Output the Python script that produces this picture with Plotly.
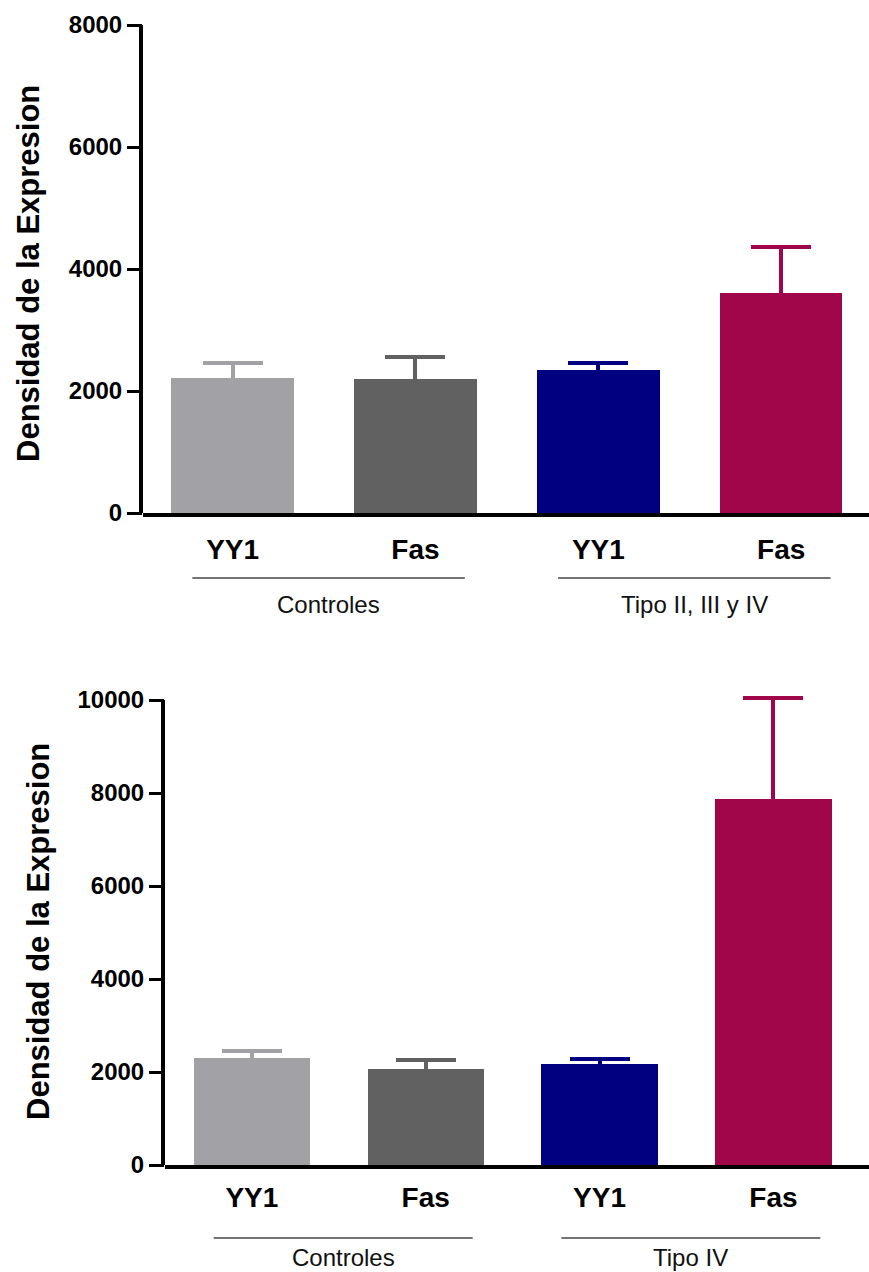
import plotly.graph_objects as go

# ---- data ----
bar_labels = ["YY1", "Fas", "YY1", "Fas"]
bar_colors = ["#A2A2A6", "#616161", "#000080", "#A1064B"]

top_groups = ["Controles", "Tipo II, III y IV"]
top_means = [2210, 2195, 2345, 3605]
top_sem = [250, 360, 115, 755]

bottom_groups = ["Controles", "Tipo IV"]
bottom_means = [2300, 2065, 2175, 7870]
bottom_sem = [150, 195, 105, 2170]

y_title = "Densidad de la Expresion"

W, H = 869, 1272
FONT = "Liberation Sans, Arial, Helvetica, sans-serif"

fig = go.Figure()

# pixel frame of each panel: left edge of the plot, pixel rows of 0 and of the top tick
panels = [
    dict(xa="x", ya="y", means=top_means, sem=top_sem, groups=top_groups,
         left=143, y0px=513, ytoppx=25, ymax=8000,
         xrange=[-0.49, 3.48], standoff=8,
         line_px=578, text_px=604, title_px=(28, 274)),
    dict(xa="x2", ya="y2", means=bottom_means, sem=bottom_sem, groups=bottom_groups,
         left=165, y0px=1165, ytoppx=700, ymax=10000,
         xrange=[-0.5, 3.55], standoff=4,
         line_px=1238, text_px=1257, title_px=(39, 932)),
]

positions = list(range(len(bar_labels)))
HEADROOM = 0.03  # extra room above the last tick so tall whisker caps stay visible

for p in panels:
    ppu = (p["y0px"] - p["ytoppx"]) / p["ymax"]          # pixels per data unit
    p["yrange"] = [0, p["ymax"] * (1 + HEADROOM)]
    top_px = p["y0px"] - p["yrange"][1] * ppu
    p["ydom"] = [(H - p["y0px"]) / H, (H - top_px) / H]
    p["xdom"] = [p["left"] / W, 1.0]

    inset = 0.02 * p["ymax"]  # whisker foot hidden inside the bar
    for i, (m, s, c) in enumerate(zip(p["means"], p["sem"], bar_colors)):
        fig.add_trace(go.Bar(
            x=[positions[i]], y=[m], width=0.67,
            marker=dict(color=c, line=dict(width=0)),
            error_y=dict(type="data", symmetric=False, array=[s], arrayminus=[inset],
                         color=c, thickness=4, width=30),
            xaxis=p["xa"], yaxis=p["ya"], showlegend=False,
        ))

    # vertical axis line, only from 0 up to the last tick
    xline = (p["left"] - 2) / W
    fig.add_shape(type="line", xref="paper", yref=p["ya"],
                  x0=xline, x1=xline, y0=0, y1=p["ymax"],
                  line=dict(color="#000000", width=4))

    # group underline + group name (two bars per group)
    for g, name in enumerate(p["groups"]):
        x0 = positions[2 * g] - 0.22
        x1 = positions[2 * g + 1] + 0.27
        ly = (H - p["line_px"]) / H
        fig.add_shape(type="line", xref=p["xa"], yref="paper",
                      x0=x0, x1=x1, y0=ly, y1=ly,
                      line=dict(color="#444444", width=1.5))
        fig.add_annotation(x=(x0 + x1) / 2, y=(H - p["text_px"]) / H,
                           xref=p["xa"], yref="paper",
                           text=name, showarrow=False, xanchor="center", yanchor="middle",
                           font=dict(family=FONT, size=24, color="#111111"))

    tx, ty = p["title_px"]
    fig.add_annotation(x=tx / W, y=(H - ty) / H, xref="paper", yref="paper",
                       text="<b>" + y_title + "</b>", textangle=-90, showarrow=False,
                       xanchor="center", yanchor="middle",
                       font=dict(family=FONT, size=31, color="#000000"))

xaxis_common = dict(
    tickmode="array", tickvals=positions,
    ticktext=["<b>" + t + "</b>" for t in bar_labels],
    tickfont=dict(family=FONT, size=28, color="#000000"),
    showline=True, linecolor="#000000", linewidth=4,
    showgrid=False, zeroline=False, ticks="", automargin=False,
)
yaxis_common = dict(
    showline=False, showgrid=False, zeroline=False, automargin=False,
    ticks="outside", ticklen=15, tickwidth=3, tickcolor="#000000",
    dtick=2000, tickformat="d", tickprefix="<b>", ticksuffix="</b>",
    tickfont=dict(family=FONT, size=24, color="#000000"),
)

top, bot = panels
fig.update_layout(
    width=W, height=H,
    margin=dict(l=0, r=0, t=0, b=0, autoexpand=False),
    paper_bgcolor="white", plot_bgcolor="white",
    barmode="overlay", bargap=0,
    xaxis=dict(domain=top["xdom"], range=top["xrange"], anchor="y",
               ticklabelstandoff=top["standoff"], **xaxis_common),
    yaxis=dict(domain=top["ydom"], range=top["yrange"], anchor="x", **yaxis_common),
    xaxis2=dict(domain=bot["xdom"], range=bot["xrange"], anchor="y2",
                ticklabelstandoff=bot["standoff"], **xaxis_common),
    yaxis2=dict(domain=bot["ydom"], range=bot["yrange"], anchor="x2", **yaxis_common),
)

fig.write_html("out.html")
